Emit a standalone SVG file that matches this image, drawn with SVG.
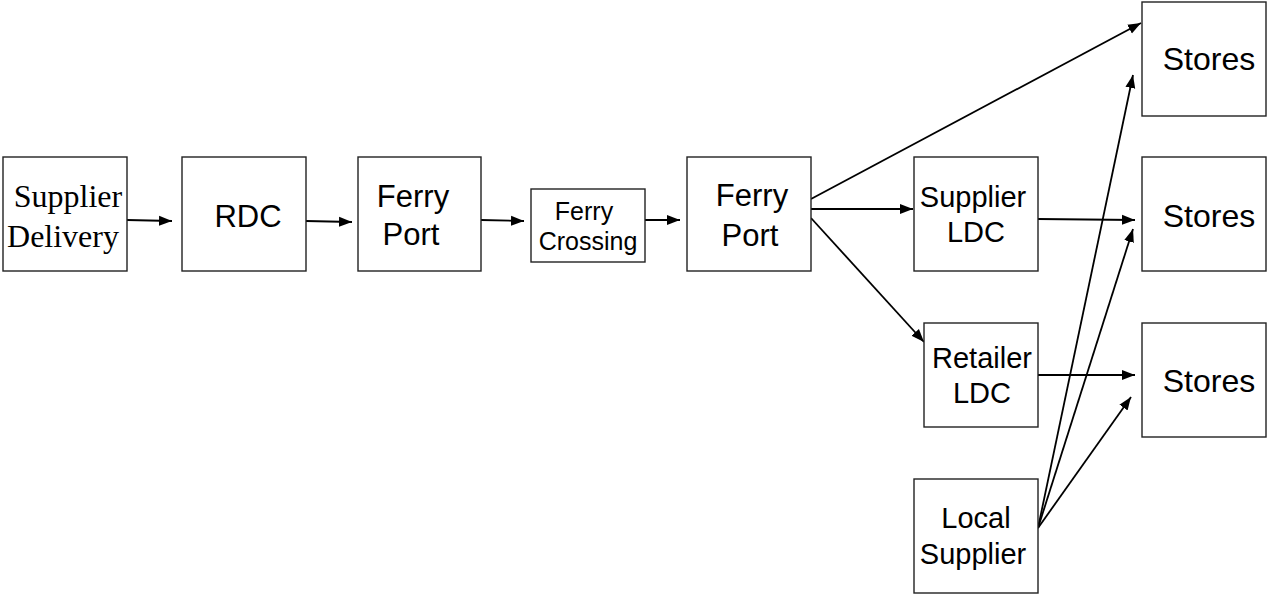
<svg xmlns="http://www.w3.org/2000/svg" width="1267" height="595" viewBox="0 0 1267 595">
<style>
.box{fill:#fff;stroke:#222;stroke-width:1.4}
.t{font-family:"Liberation Sans",Arial,sans-serif;fill:#000;text-anchor:middle}
.serif{font-family:"Liberation Serif","Times New Roman",serif;fill:#000;text-anchor:middle}
.c{stroke:#000;stroke-width:1.8;fill:none;marker-end:url(#ah)}
</style>
<defs>
<marker id="ah" markerUnits="userSpaceOnUse" markerWidth="13" markerHeight="11" refX="13" refY="5.5" orient="auto">
<path d="M0,0.5 L13,5.5 L0,10.5 z" fill="#000"/>
</marker>
</defs>
<rect width="1267" height="595" fill="#fff"/>
<g id="connectors">
<line class="c" x1="127" y1="220" x2="172" y2="221"/>
<line class="c" x1="306" y1="221" x2="352" y2="222"/>
<line class="c" x1="481" y1="220" x2="524" y2="221"/>
<line class="c" x1="645" y1="220" x2="680" y2="220"/>
<line class="c" x1="811" y1="199" x2="1141" y2="23"/>
<line class="c" x1="811" y1="209" x2="913" y2="209"/>
<line class="c" x1="811" y1="218" x2="924" y2="342"/>
<line class="c" x1="1038" y1="219" x2="1135" y2="220"/>
<line class="c" x1="1038" y1="375" x2="1135" y2="375"/>
<line class="c" x1="1038" y1="528" x2="1133" y2="75"/>
<line class="c" x1="1038" y1="528" x2="1133" y2="229"/>
<line class="c" x1="1038" y1="528" x2="1131" y2="397"/>
</g>
<g id="supplier-delivery">
<rect class="box" x="3" y="157" width="124" height="114"/>
<text class="serif" font-size="32" x="68" y="207">Supplier</text>
<text class="serif" font-size="32" x="63" y="247">Delivery</text>
</g>
<g id="rdc">
<rect class="box" x="182" y="157" width="124" height="114"/>
<text class="t" font-size="31" x="248" y="227">RDC</text>
</g>
<g id="ferry-port-1">
<rect class="box" x="358" y="157" width="123" height="114"/>
<text class="t" font-size="31" x="413" y="207">Ferry</text>
<text class="t" font-size="31" x="411" y="245">Port</text>
</g>
<g id="ferry-crossing">
<rect class="box" x="531" y="189" width="114" height="73"/>
<text class="t" font-size="25" x="584" y="220">Ferry</text>
<text class="t" font-size="25" x="588" y="250">Crossing</text>
</g>
<g id="ferry-port-2">
<rect class="box" x="687" y="157" width="124" height="114"/>
<text class="t" font-size="31" x="752" y="206">Ferry</text>
<text class="t" font-size="31" x="750" y="246">Port</text>
</g>
<g id="supplier-ldc">
<rect class="box" x="914" y="157" width="124" height="114"/>
<text class="t" font-size="29" x="973" y="207">Supplier</text>
<text class="t" font-size="29" x="976" y="242">LDC</text>
</g>
<g id="retailer-ldc">
<rect class="box" x="924" y="323" width="114" height="104"/>
<text class="t" font-size="29" x="982" y="368">Retailer</text>
<text class="t" font-size="29" x="982" y="403">LDC</text>
</g>
<g id="local-supplier">
<rect class="box" x="914" y="479" width="124" height="114"/>
<text class="t" font-size="29" x="976" y="528">Local</text>
<text class="t" font-size="29" x="973" y="564">Supplier</text>
</g>
<g id="stores-1">
<rect class="box" x="1142" y="2" width="124" height="114"/>
<text class="t" font-size="32" x="1209" y="70">Stores</text>
</g>
<g id="stores-2">
<rect class="box" x="1142" y="157" width="124" height="114"/>
<text class="t" font-size="32" x="1209" y="227">Stores</text>
</g>
<g id="stores-3">
<rect class="box" x="1142" y="323" width="124" height="114"/>
<text class="t" font-size="32" x="1209" y="392">Stores</text>
</g>
</svg>
